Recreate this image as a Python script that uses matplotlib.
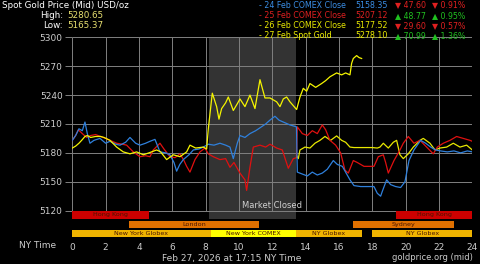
import matplotlib
matplotlib.use('Agg')
import matplotlib.pyplot as plt

# series (hour of NY day, price)
blue_h = [0, 0.2, 0.4, 0.6, 0.76, 0.9, 1.06, 1.3, 1.66, 2.0, 2.26, 2.6, 2.86, 3.2, 3.46, 3.8, 4.06, 4.4,
          4.66, 4.96, 5.26, 5.6, 5.86, 6.1, 6.26, 6.45, 6.66, 7.0, 7.26, 7.6, 7.86, 8.16, 8.5, 8.86, 9.2,
          9.46, 9.66, 9.9, 10.06, 10.36, 10.66, 11.0, 11.26, 11.6, 11.86, 12.16, 12.4, 12.66, 13.06, 13.45,
          13.5, 13.8, 14.1, 14.4, 14.7, 15.0, 15.3, 15.66, 15.9, 16.2, 16.66, 16.9, 17.3, 17.8, 18.1, 18.3,
          18.5, 18.6, 18.86, 19.1, 19.4, 19.7, 19.96, 20.2, 20.5, 20.9, 21.2, 21.5, 21.8, 22.1, 22.5, 22.9,
          23.3, 23.7, 24.0]
blue_v = [5193, 5198, 5205, 5203, 5212, 5200, 5190, 5193, 5195, 5190, 5192, 5189, 5188, 5191, 5196, 5190,
          5188, 5190, 5192, 5194, 5181, 5180, 5178, 5170, 5161, 5168, 5173, 5178, 5183, 5184, 5186, 5189,
          5188, 5190, 5188, 5186, 5174, 5190, 5198, 5196, 5200, 5203, 5206, 5210, 5214, 5218, 5214, 5212,
          5209, 5207, 5160, 5158, 5156, 5160, 5157, 5159, 5163, 5172, 5168, 5166, 5152, 5146, 5145, 5145,
          5145, 5138, 5135, 5140, 5152, 5147, 5145, 5144, 5150, 5172, 5183, 5193, 5190, 5186, 5183, 5182,
          5181, 5182, 5180, 5182, 5181]

red_h = [0, 0.2, 0.36, 0.6, 0.86, 1.1, 1.4, 1.7, 2.0, 2.26, 2.66, 3.0, 3.26, 3.66, 4.06, 4.4, 4.66, 4.86,
         5.26, 5.5, 5.86, 6.16, 6.46, 6.7, 6.86, 7.06, 7.36, 7.66, 7.96, 8.16, 8.46, 8.86, 9.2, 9.46, 9.7,
         10.06, 10.36, 10.46, 10.66, 10.86, 11.26, 11.6, 11.86, 12.26, 12.6, 12.96, 13.26, 13.45, 13.5,
         13.8, 14.1, 14.4, 14.7, 15.0, 15.2, 15.46, 15.8, 16.1, 16.36, 16.56, 16.86, 17.1, 17.5, 18.1,
         18.36, 18.66, 18.8, 18.96, 19.3, 19.66, 19.86, 20.16, 20.5, 20.86, 21.26, 21.66, 21.9, 22.26,
         22.66, 23.06, 23.46, 23.86, 24.0]
red_v = [5193, 5198, 5204, 5200, 5196, 5198, 5199, 5197, 5195, 5193, 5190, 5189, 5188, 5181, 5176, 5177,
         5176, 5183, 5190, 5184, 5176, 5175, 5179, 5172, 5166, 5160, 5173, 5181, 5185, 5179, 5176, 5173,
         5174, 5165, 5170, 5159, 5152, 5141, 5165, 5186, 5188, 5186, 5189, 5185, 5183, 5164, 5174, 5175,
         5207, 5200, 5198, 5203, 5200, 5209, 5204, 5193, 5188, 5180, 5162, 5159, 5172, 5170, 5166, 5166,
         5176, 5178, 5170, 5159, 5172, 5183, 5190, 5197, 5190, 5193, 5186, 5179, 5186, 5190, 5193, 5197,
         5195, 5193, 5192]

y26_h = [13.46, 13.56, 13.66, 13.96, 14.26, 14.56, 14.86, 15.16, 15.5, 15.86, 16.16, 16.4, 16.66, 16.9,
         17.5, 18.0, 18.3, 18.46, 18.66, 18.96, 19.26, 19.46, 19.66, 19.86, 20.16, 20.46, 20.86, 21.06,
         21.46, 21.76, 22.06, 22.46, 22.86, 23.26, 23.66, 24.0]
y26_v = [5177, 5174, 5183, 5186, 5185, 5190, 5193, 5197, 5193, 5197.6, 5193, 5191, 5186, 5185.5, 5185.5,
         5185.5, 5185, 5186, 5190, 5185, 5191, 5193, 5178, 5174, 5179, 5186, 5193, 5195, 5190, 5183, 5185,
         5186, 5190, 5186, 5188, 5183]

spot_h = [0, 0.2, 0.4, 0.56, 0.76, 0.9, 1.1, 1.4, 1.7, 1.9, 2.26, 2.66, 3.06, 3.46, 3.86, 4.26, 4.6, 5.06,
          5.3, 5.66, 6.06, 6.46, 6.86, 7.06, 7.4, 7.86, 8.06, 8.16, 8.4, 8.66, 8.8, 8.96, 9.2, 9.36, 9.66,
          9.9, 10.06, 10.36, 10.66, 10.96, 11.26, 11.56, 11.86, 12.26, 12.46, 12.66, 12.86, 13.06, 13.46,
          13.66, 13.86, 14.06, 14.26, 14.6, 14.96, 15.2, 15.46, 15.86, 16.16, 16.4, 16.66, 16.76, 16.86,
          17.06, 17.2, 17.36]
spot_v = [5185, 5187, 5190, 5193, 5197, 5198, 5196, 5197, 5197, 5196, 5193, 5186, 5181, 5179, 5181, 5178,
          5180, 5183, 5181, 5173, 5178, 5176, 5181, 5188, 5185, 5186, 5184, 5205, 5242, 5228, 5215, 5226,
          5232, 5238, 5224, 5231, 5236, 5228, 5240, 5226, 5256, 5237, 5237, 5233, 5228, 5236, 5238, 5233,
          5225, 5238, 5247, 5244, 5252, 5248, 5252, 5255, 5259, 5263, 5261, 5263, 5261, 5273, 5278, 5281,
          5279, 5278]

# trading sessions: (name, start, end, row, colour)
sessions = [
    ('Hong Kong', 0, 4.63, 0, '#cc0000'),
    ('Hong Kong', 19.45, 24, 0, '#cc0000'),
    ('London', 3.41, 11.2, 1, '#e07000'),
    ('Sydney', 16.85, 22.9, 1, '#e07000'),
    ('New York Globex', 0, 8.3, 2, '#f0b400'),
    ('New York COMEX', 8.3, 13.4, 2, '#ffff00'),
    ('NY Globex', 13.4, 17.4, 2, '#f0b400'),
    ('NY Globex', 18.0, 24, 2, '#f0b400'),
]
row_y = [5115.8, 5105.5, 5096.3]

legend_rows = [
    ('- 24 Feb COMEX Close', '5158.35', '\u25bc 47.60', '\u25bc 0.91%', '#3a8ee6', '#e02020'),
    ('- 25 Feb COMEX Close', '5207.12', '\u25b2 48.77', '\u25b2 0.95%', '#e02020', '#20c020'),
    ('- 26 Feb COMEX Close', '5177.52', '\u25bc 29.60', '\u25bc 0.57%', '#e8e800', '#e02020'),
    ('- 27 Feb Spot Gold', '5278.10', '\u25b2 70.99', '\u25b2 1.36%', '#f0f000', '#20c020'),
]

yticks = [5120, 5150, 5180, 5210, 5240, 5270, 5300]
xticks = list(range(0, 25, 2))

W, H = 480, 264
fig = plt.figure(figsize=(4.8, 2.64), dpi=100, facecolor='black')
ax = fig.add_axes([72.3 / W, 1 - 237.6 / H, 400 / W, (237.6 - 37.3) / H])
ax.set_facecolor('black')
ax.set_xlim(0, 24)
ax.set_ylim(5092, 5300)
for s in ax.spines.values():
    s.set_visible(False)

# market closed shading
ax.fill_between([8.2, 13.45], 5111, 5300, color='#333333', lw=0, zorder=0)
ax.text(12.0, 5125, 'Market Closed', color='#d0d0d0', fontsize=6, ha='center', va='center', zorder=1)

# grid
ax.hlines(yticks, 0, 24, color='#808080', lw=0.7, zorder=1)
ax.vlines(xticks, 5120, 5300, color='#808080', lw=0.7, zorder=1)

ax.plot(y26_h, y26_v, color='#e8e800', lw=0.9, zorder=3)
ax.plot(red_h, red_v, color='#e01010', lw=0.9, zorder=3)
ax.plot(blue_h, blue_v, color='#2f80dc', lw=0.9, zorder=3)
ax.plot(spot_h, spot_v, color='#f5f500', lw=0.9, zorder=4)

for name, a, b, row, col in sessions:
    ax.barh(row_y[row], b - a, left=a, height=8, color=col, lw=0, zorder=2)
    ax.text((a + b) / 2, row_y[row], name, fontsize=4.6, color='#4a1500',
            ha='center', va='center', zorder=3)

ax.set_yticks(yticks)
ax.set_yticklabels([str(t) for t in yticks])
ax.set_xticks(xticks)
ax.tick_params(axis='y', colors='#808080', labelcolor='#cccccc', length=5, width=0.7,
               labelsize=6.5, pad=2)
ax.tick_params(axis='x', length=0, labelcolor='#cccccc', labelsize=6.5, pad=4)

# header texts
fig.text(2 / W, 1 - 6 / H, 'Spot Gold Price (Mid) USD/oz', color='white', fontsize=6.3, va='center')
fig.text(63 / W, 1 - 16 / H, 'High:', color='white', fontsize=6.3, va='center', ha='right')
fig.text(67 / W, 1 - 16 / H, '5280.65', color='#e8e070', fontsize=6.3, va='center')
fig.text(63 / W, 1 - 26 / H, 'Low:', color='white', fontsize=6.3, va='center', ha='right')
fig.text(67 / W, 1 - 26 / H, '5165.37', color='#e8e070', fontsize=6.3, va='center')

for i, (lab, val, chg, pct, col, ccol) in enumerate(legend_rows):
    yy = 1 - (5 + 10.3 * i) / H
    fig.text(259 / W, yy, lab, color=col, fontsize=5.7, va='center')
    fig.text(355 / W, yy, val, color=col, fontsize=5.7, va='center')
    fig.text(395 / W, yy, chg, color=ccol, fontsize=5.7, va='center')
    fig.text(432 / W, yy, pct, color=ccol, fontsize=5.7, va='center')

fig.text(38 / W, 1 - 246 / H, 'NY Time', color='#cccccc', fontsize=6.5, ha='center', va='center')
fig.text(232 / W, 1 - 258 / H, 'Feb 27, 2026 at 17:15 NY Time', color='#cccccc', fontsize=6.5,
         ha='center', va='center')
fig.text(473 / W, 1 - 258 / H, 'goldprice.org (mid)', color='#cccccc', fontsize=6, ha='right', va='center')

fig.savefig('out.png', dpi=100, facecolor='black')
